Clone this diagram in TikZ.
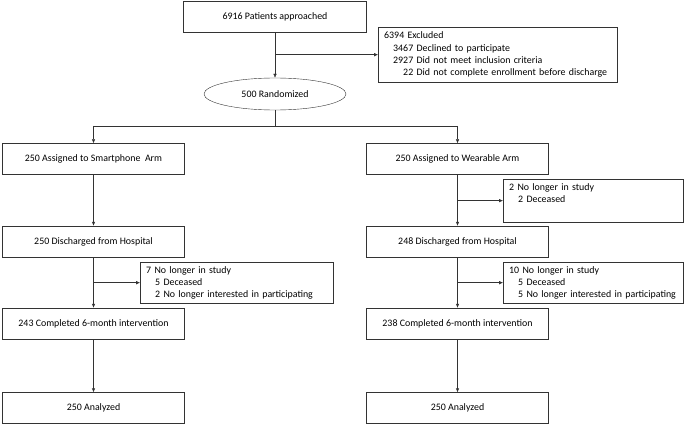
\documentclass[tikz,border=0pt]{standalone}
\usepackage{fontspec}
\setmainfont{Carlito}
\usetikzlibrary{shapes.geometric,arrows.meta}
\begin{document}
\begin{tikzpicture}[x=1pt, y=-1pt, font=\fontsize{9.9}{12.2}\selectfont,
    box/.style = {draw=black!80, minimum width=182pt, minimum height=31pt, inner sep=0pt},
    side/.style = {draw=black!80, anchor=north west, align=left, inner xsep=6pt, inner ysep=4pt, minimum height=40pt},
    line/.style = {draw=black!80},
    arr/.style = {line, -{Latex[length=4pt,width=3.5pt]}}]
  \useasboundingbox (0,0) rectangle (685,425);

  \node[box, minimum width=183pt] (appr) at (275,16.5) {6916 Patients approached};
  \node[side, text width=227pt, minimum height=55pt] (excl) at (378,27)
    {6394 Excluded\\
     \hspace*{9pt}3467 Declined to participate\\
     \hspace*{9pt}2927 Did not meet inclusion criteria\\
     \hspace*{9pt}\hphantom{00}22 Did not complete enrollment before discharge};
  \node[ellipse, draw=black!80, minimum width=142pt, minimum height=32pt, inner sep=0pt] (rand) at (275,94) {500 Randomized};
  \coordinate (split) at (275,126);

  % smartphone arm
  \node[box] (sa) at (93.5,159) {250 Assigned to Smartphone\ \ Arm};
  \node[box] (sd) at (93.5,241.5) {250 Discharged from Hospital};
  \node[side, text width=181pt] (sx) at (140,262)
    {7 No longer in study\\
     \hspace*{9pt}5 Deceased\\
     \hspace*{9pt}2 No longer interested in participating};
  \node[box] (sc) at (93.5,323.5) {243 Completed 6-month intervention};
  \node[box] (sn) at (93.5,408) {250 Analyzed};

  % wearable arm
  \node[box] (wa) at (457.5,159) {250 Assigned to Wearable Arm};
  \node[side, text width=168pt] (wx) at (503,179)
    {2 No longer in study\\
     \hspace*{9pt}2 Deceased\\ \strut};
  \node[box] (wd) at (457.5,241.5) {248 Discharged from Hospital};
  \node[side, text width=168pt] (wy) at (503,262)
    {10 No longer in study\\
     \hspace*{9pt}5 Deceased\\
     \hspace*{9pt}5 No longer interested in participating};
  \node[box] (wc) at (457.5,323.5) {238 Completed 6-month intervention};
  \node[box] (wn) at (457.5,408) {250 Analyzed};

  \draw[arr] (appr) -- (rand);
  \draw[arr] (appr.south |- excl.west) -- (excl.west);
  \draw[line] (rand) -- (split);
  \draw[line] (sa.north |- split) -- (wa.north |- split);
  \draw[arr] (sa.north |- split) -- (sa);
  \draw[arr] (wa.north |- split) -- (wa);

  \draw[arr] (sa) -- (sd);
  \draw[arr] (sd) -- (sc);
  \draw[arr] (sd.south |- sx.west) -- (sx.west);
  \draw[arr] (sc) -- (sn);

  \draw[arr] (wa) -- (wd);
  \draw[arr] (wa.south |- wx.west) -- (wx.west);
  \draw[arr] (wd) -- (wc);
  \draw[arr] (wd.south |- wy.west) -- (wy.west);
  \draw[arr] (wc) -- (wn);
\end{tikzpicture}
\end{document}
